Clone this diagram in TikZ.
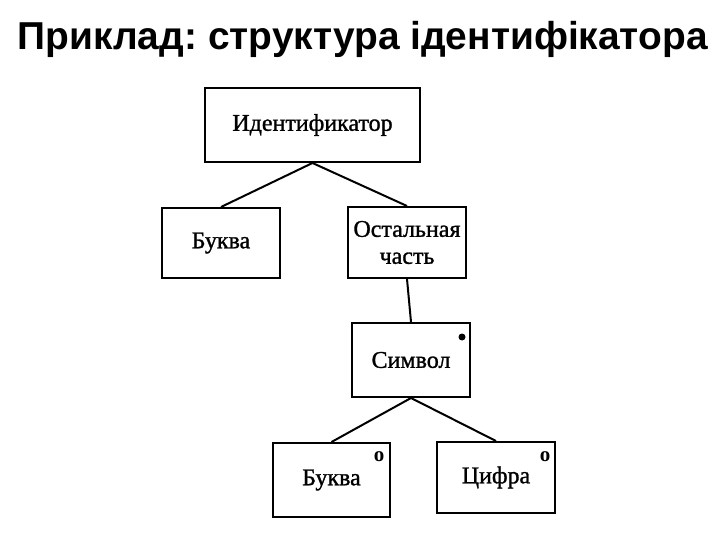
\documentclass[tikz,border=0pt]{standalone}
\usepackage{fontspec}
\setmainfont{Liberation Serif}
\newfontfamily\boxfont{Liberation Serif}[FakeBold=1.2]
\newfontfamily\titlefont{Liberation Sans}
\tikzset{
  blk/.style={draw=black, line width=2pt, rectangle, inner sep=0pt, align=center,
    font=\boxfont\fontsize{24}{27}\selectfont},
  conn/.style={line width=2pt},
  omark/.style={inner sep=0pt, font=\bfseries\fontsize{21}{21}\selectfont}
}
\begin{document}
\begin{tikzpicture}[x=1pt,y=-1pt]
\useasboundingbox (0,0) rectangle (720,540);
\node[anchor=base west, inner sep=0pt, font=\frenchspacing\titlefont\bfseries\fontsize{38.9}{40}\selectfont] (title) at (17.5,50) {Приклад: структура ідентифікатора};
\node[blk, minimum width=215pt, minimum height=74pt] (ident) at (312.5,125) {Идентификатор};
\node[blk, minimum width=118pt, minimum height=70pt] (bukva1) at (221,243) {Буква};
\node[blk, minimum width=118pt, minimum height=71pt] (rest) at (407,242.5) {Остальная\\часть};
\node[blk, minimum width=118pt, minimum height=74pt] (symbol) at (411,360) {Символ};
\node[blk, minimum width=117pt, minimum height=74pt] (bukva2) at (331.5,480) {Буква};
\node[blk, minimum width=118pt, minimum height=71pt] (digit) at (496,477.5) {Цифра};
\node[circle, fill=black, inner sep=0pt, minimum size=7pt] (star) at (462,337) {};
\node[omark] (o1) at (379,457) {o};
\node[omark] (o2) at (545,457) {o};
\draw[conn] (ident.south) -- (bukva1.north);
\draw[conn] (ident.south) -- (rest.north);
\draw[conn] (rest.south) -- (symbol.north);
\draw[conn] (symbol.south) -- (bukva2.north);
\draw[conn] (symbol.south) -- (digit.north);
\end{tikzpicture}
\end{document}
